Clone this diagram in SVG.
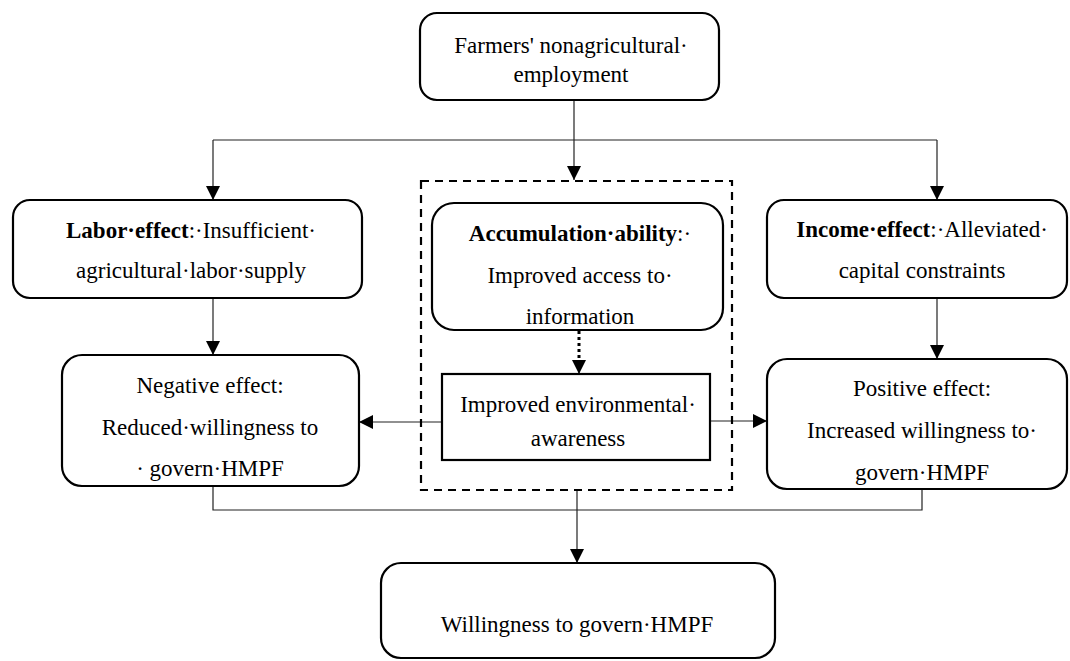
<svg xmlns="http://www.w3.org/2000/svg" width="1070" height="661" viewBox="0 0 1070 661">
<defs>
<marker id="arr" viewBox="0 0 14 14" refX="14" refY="7" markerWidth="14" markerHeight="14" markerUnits="userSpaceOnUse" orient="auto">
<path d="M0,0 L14,7 L0,14 z" fill="#000"/>
</marker>
<style>
.box{fill:#fff;stroke:#000;stroke-width:2.2}
.dash{fill:none;stroke:#000;stroke-width:2.2;stroke-dasharray:8,6}
.ln{fill:none;stroke:#222;stroke-width:1.2}
.dot{fill:none;stroke:#000;stroke-width:3;stroke-dasharray:3,3}
.t{font-family:'Liberation Serif','DejaVu Serif',serif;font-size:23px;fill:#000;text-anchor:middle}
.b{font-weight:bold}
</style>
</defs>
<rect width="1070" height="661" fill="#fff"/>
<g id="connectors">
<path class="ln" d="M574,100 V180" marker-end="url(#arr)"/>
<path class="ln" d="M213,140 H937"/>
<path class="ln" d="M213,140 V200" marker-end="url(#arr)"/>
<path class="ln" d="M937,140 V200" marker-end="url(#arr)"/>
<path class="ln" d="M213,298 V355" marker-end="url(#arr)"/>
<path class="ln" d="M937,298 V359" marker-end="url(#arr)"/>
<path class="dot" d="M579,331 V360"/>
<path class="ln" d="M579,360 V374" marker-end="url(#arr)"/>
<path class="ln" d="M442,422 H359" marker-end="url(#arr)"/>
<path class="ln" d="M710,421 H767" marker-end="url(#arr)"/>
<path class="ln" d="M213,486 V510 H922 V489"/>
<path class="ln" d="M577,490 V563" marker-end="url(#arr)"/>
</g>
<g id="dashed-group">
<rect class="dash" x="421" y="181" width="311" height="309"/>
</g>
<g id="top">
<rect class="box" x="420" y="13" width="299" height="87" rx="17"/>
<text class="t" font-family="Liberation Serif" x="571" y="53">Farmers' nonagricultural·</text>
<text class="t" font-family="Liberation Serif" x="571" y="82">employment</text>
</g>
<g id="labor">
<rect class="box" x="13" y="200" width="349" height="98" rx="17"/>
<text class="t" font-family="Liberation Serif" x="191" y="238"><tspan class="b">Labor·effect</tspan>:·Insufficient·</text>
<text class="t" font-family="Liberation Serif" x="191" y="278">agricultural·labor·supply</text>
</g>
<g id="income">
<rect class="box" x="767" y="200" width="300" height="98" rx="17"/>
<text class="t" font-family="Liberation Serif" x="922" y="237"><tspan class="b">Income·effect</tspan>:·Alleviated·</text>
<text class="t" font-family="Liberation Serif" x="922" y="278">capital constraints</text>
</g>
<g id="accumulation">
<rect class="box" x="432" y="203" width="291" height="127" rx="22"/>
<text class="t" font-family="Liberation Serif" x="580" y="241"><tspan class="b">Accumulation·ability</tspan>:·</text>
<text class="t" font-family="Liberation Serif" x="580" y="283">Improved access to·</text>
<text class="t" font-family="Liberation Serif" x="580" y="324">information</text>
</g>
<g id="environment">
<rect class="box" x="442" y="374" width="268" height="86"/>
<text class="t" font-family="Liberation Serif" x="578" y="412">Improved environmental·</text>
<text class="t" font-family="Liberation Serif" x="578" y="446">awareness</text>
</g>
<g id="negative">
<rect class="box" x="62" y="355" width="297" height="131" rx="20"/>
<text class="t" font-family="Liberation Serif" x="210" y="393">Negative effect:</text>
<text class="t" font-family="Liberation Serif" x="210" y="435">Reduced·willingness to</text>
<text class="t" font-family="Liberation Serif" x="210" y="476">· govern·HMPF</text>
</g>
<g id="positive">
<rect class="box" x="767" y="359" width="300" height="130" rx="20"/>
<text class="t" font-family="Liberation Serif" x="922" y="396">Positive effect:</text>
<text class="t" font-family="Liberation Serif" x="922" y="438">Increased willingness to·</text>
<text class="t" font-family="Liberation Serif" x="922" y="480">govern·HMPF</text>
</g>
<g id="willingness">
<rect class="box" x="381" y="563" width="394" height="95" rx="20"/>
<text class="t" font-family="Liberation Serif" x="577" y="632">Willingness to govern·HMPF</text>
</g>
</svg>
